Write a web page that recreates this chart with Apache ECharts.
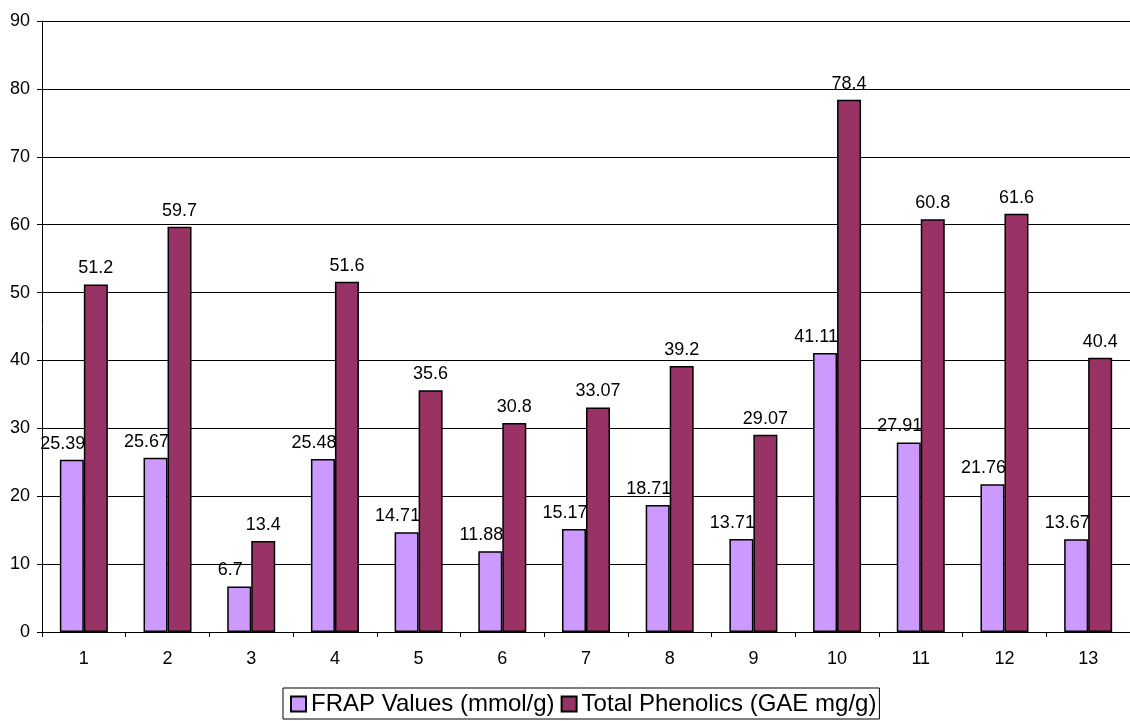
<!DOCTYPE html>
<html>
<head>
<meta charset="utf-8">
<script src="https://cdn.jsdelivr.net/npm/echarts@6/dist/echarts.min.js"></script>
<style>
  html, body { margin: 0; padding: 0; background: #fff; }
  #chart { width: 1130px; height: 721px; }
</style>
</head>
<body>
<div id="chart"></div>
<script>
// sample numbers on the x axis
var categories = ['1', '2', '3', '4', '5', '6', '7', '8', '9', '10', '11', '12', '13']
// FRAP (mmol/g)
var frapValues = [25.39, 25.67, 6.7, 25.48, 14.71, 11.88, 15.17, 18.71, 13.71, 41.11, 27.91, 21.76, 13.67]
// total phenolics (GAE mg/g)
var phenolicValues = [51.2, 59.7, 13.4, 51.6, 35.6, 30.8, 33.07, 39.2, 29.07, 78.4, 60.8, 61.6, 40.4]
var seriesNames = ['FRAP Values (mmol/g)', 'Total Phenolics (GAE mg/g)']

var chart = echarts.init(document.getElementById('chart'))
var font = 'Liberation Sans, Arial, sans-serif'

chart.setOption({
  animation: false,
  color: ['#CC99FF', '#993366'],
  textStyle: { fontFamily: font },
  grid: {
    left: 42,
    right: 0,
    top: 21,
    bottom: 89
  },
  legend: {
    bottom: 2,
    left: 283,
    icon: 'rect',
    itemWidth: 15,
    itemHeight: 15,
    itemGap: 6,
    padding: [4, 3, 3, 7],
    borderColor: '#000',
    borderWidth: 1,
    textStyle: { fontSize: 24, color: '#000', fontFamily: font },
    data: seriesNames
  },
  xAxis: {
    type: 'category',
    data: categories,
    axisLine: { lineStyle: { color: '#000' } },
    axisTick: { show: true, length: 5, lineStyle: { color: '#000' } },
    axisLabel: { color: '#000', fontSize: 18, margin: 18 }
  },
  yAxis: {
    type: 'value',
    min: 0,
    max: 90,
    interval: 10,
    axisLine: { show: true, lineStyle: { color: '#000' } },
    axisTick: { show: true, length: 5, lineStyle: { color: '#000' } },
    axisLabel: { color: '#000', fontSize: 18, margin: 12 },
    splitLine: { lineStyle: { color: '#000', width: 1 } }
  },
  series: [{
    name: seriesNames[0],
    type: 'bar',
    data: frapValues,
    barWidth: 24,
    barGap: '0%',
    itemStyle: { borderColor: '#000', borderWidth: 1.5 },
    label: {
      show: true,
      position: 'top',
      offset: [-9, -2],
      color: '#000',
      fontSize: 18
    }
  }, {
    name: seriesNames[1],
    type: 'bar',
    data: phenolicValues,
    barWidth: 24,
    barGap: '0%',
    itemStyle: { borderColor: '#000', borderWidth: 1.5 },
    label: {
      show: true,
      position: 'top',
      offset: [0, -2],
      color: '#000',
      fontSize: 18
    }
  }]
})
</script>
</body>
</html>
